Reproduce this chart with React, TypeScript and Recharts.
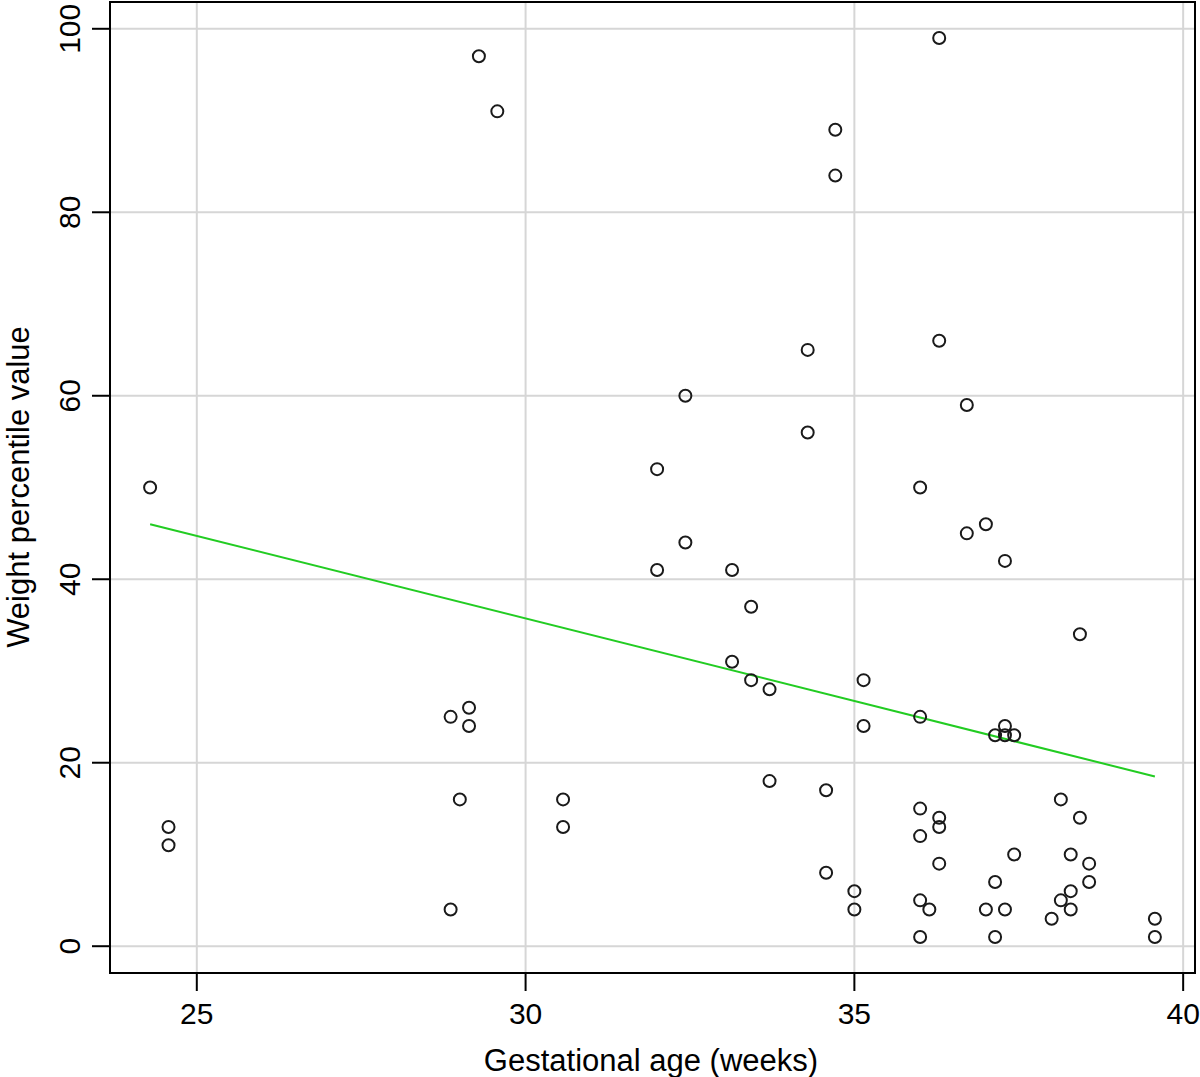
import {
  ScatterChart, Scatter, XAxis, YAxis, CartesianGrid, ReferenceArea,
} from 'recharts'

// gestational age (weeks) and weight percentile, one entry per infant
const gestAge = [
  24.29, 24.57, 24.57, 29.29, 29.57, 28.86, 29.14, 29.14, 29.0, 28.86,
  30.57, 30.57, 32.0, 32.0, 32.43, 32.43, 33.14, 33.14, 33.43, 33.43,
  33.71, 33.71, 34.29, 34.29, 34.71, 34.71, 34.57, 34.57, 35.0, 35.0,
  35.14, 35.14, 36.29, 36.29, 36.0, 36.0, 36.0, 36.0, 36.0, 36.14,
  36.0, 36.29, 36.29, 36.29, 36.71, 36.71, 37.0, 37.29, 37.29, 37.14,
  37.29, 37.43, 38.14, 38.43, 37.43, 38.29, 38.57, 38.57, 37.14, 38.29,
  38.14, 38.29, 38.0, 37.0, 37.29, 37.14, 39.57, 39.57, 38.43,
]
const weightPct = [
  50, 13, 11, 97, 91, 25, 26, 24, 16, 4,
  16, 13, 52, 41, 60, 44, 41, 31, 37, 29,
  28, 18, 65, 56, 89, 84, 17, 8, 6, 4,
  29, 24, 99, 66, 50, 25, 15, 12, 5, 4,
  1, 14, 13, 9, 59, 45, 46, 42, 24, 23,
  23, 23, 16, 14, 10, 10, 9, 7, 7, 6,
  5, 4, 3, 4, 4, 1, 3, 1, 34,
]

// fitted regression line end points
const fitAge = [24.29, 39.57]
const fitPct = [46.0, 18.5]

const xTicks = [25, 30, 35, 40]
const yTicks = [0, 20, 40, 60, 80, 100]
const xDomain: [number, number] = [23.68, 40.18]
const yDomain: [number, number] = [-2.92, 102.92]

const points = gestAge.map((x, i) => ({ x, y: weightPct[i] }))
const fit = fitAge.map((x, i) => ({ x, y: fitPct[i] }))

const FONT = '"Liberation Sans", Arial, sans-serif'

const Circle = (props: { cx?: number; cy?: number }) => (
  <circle cx={props.cx} cy={props.cy} r={6} fill="none" stroke="#1a1a1a" strokeWidth={2} />
)

const XTick = ({ x, y, payload }: { x?: number; y?: number; payload?: { value: number } }) => (
  <text x={x} y={(y ?? 0) + 31} textAnchor="middle" fontSize={30} fill="#000" fontFamily={FONT}>
    {payload?.value}
  </text>
)

const YTick = ({ x, y, payload }: { x?: number; y?: number; payload?: { value: number } }) => {
  const tx = (x ?? 0) - 10
  return (
    <text x={tx} y={y} textAnchor="middle" fontSize={30} fill="#000" fontFamily={FONT}
      transform={`rotate(-90, ${tx}, ${y})`}>
      {payload?.value}
    </text>
  )
}

export default function App() {
  return (
    <div style={{ position: 'absolute', left: 0, top: 0, background: '#fff' }}>
      <ScatterChart width={1200} height={1077} margin={{ top: 2, right: 5, bottom: 0, left: 0 }}>
        <CartesianGrid stroke="#d6d6d6" strokeWidth={2} />
        <XAxis
          type="number" dataKey="x" domain={xDomain} ticks={xTicks} allowDataOverflow
          height={104} axisLine={false} tickSize={18}
          tickLine={{ stroke: '#000', strokeWidth: 2 }}
          tick={<XTick />}
          label={{
            content: () => (
              <text x={651} y={1071} textAnchor="middle" fontSize={31} fill="#000" fontFamily={FONT}>
                Gestational age (weeks)
              </text>
            ),
          }}
        />
        <YAxis
          type="number" dataKey="y" domain={yDomain} ticks={yTicks} allowDataOverflow
          width={110} axisLine={false} tickSize={18}
          tickLine={{ stroke: '#000', strokeWidth: 2 }}
          tick={<YTick />}
          label={{
            content: () => (
              <text x={29} y={487} textAnchor="middle" fontSize={31} fill="#000" fontFamily={FONT}
                transform="rotate(-90, 29, 487)">
                Weight percentile value
              </text>
            ),
          }}
        />
        <ReferenceArea x1={xDomain[0]} x2={xDomain[1]} y1={yDomain[0]} y2={yDomain[1]}
          fill="none" fillOpacity={0} stroke="#000" strokeWidth={2} strokeOpacity={1} />
        <Scatter data={fit} line={{ stroke: '#22cc22', strokeWidth: 2 }}
          shape={() => <g />} isAnimationActive={false} />
        <Scatter data={points} shape={<Circle />} isAnimationActive={false} />
      </ScatterChart>
    </div>
  )
}
